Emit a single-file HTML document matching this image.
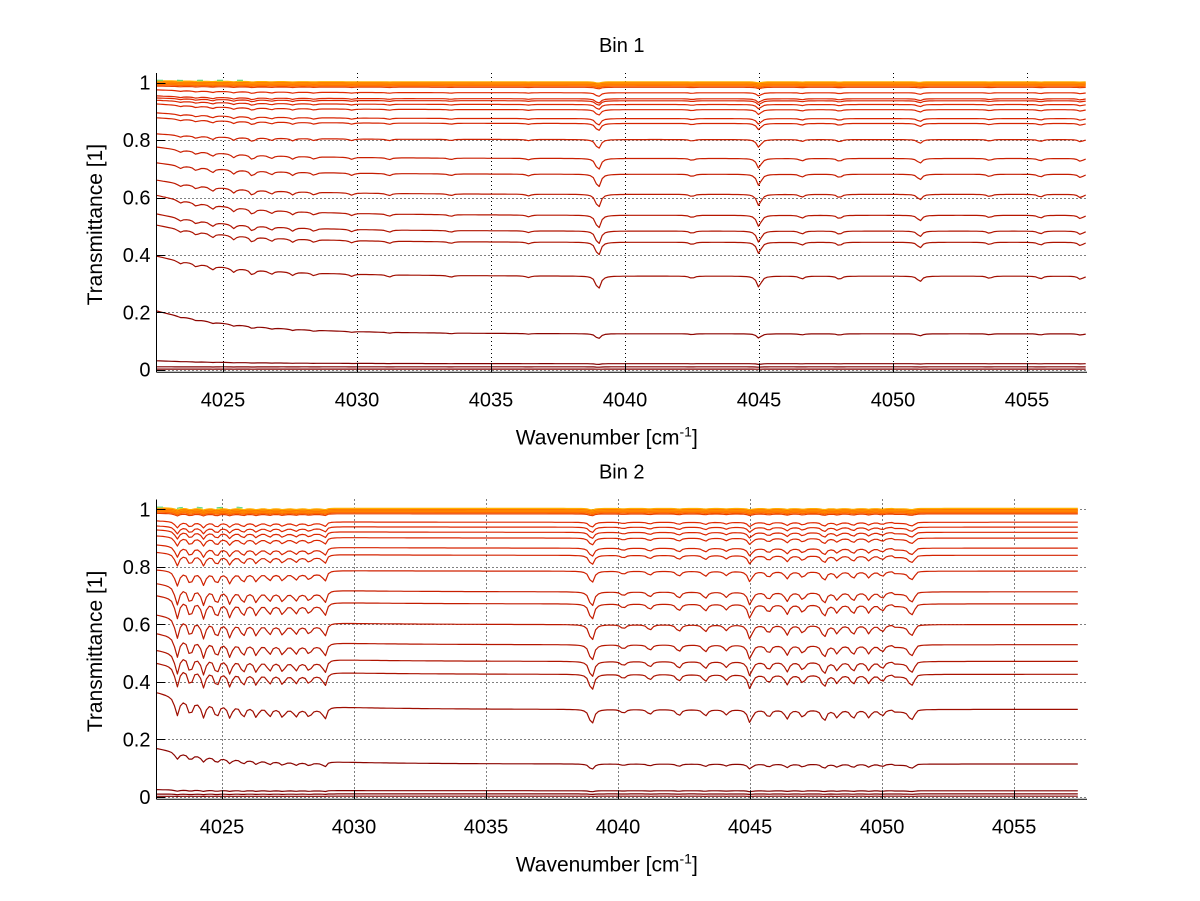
<!DOCTYPE html>
<html><head><meta charset="utf-8"><style>
html,body{margin:0;padding:0;background:#fff;}
svg{display:block;font-family:"Liberation Sans",Arial,sans-serif;}
</style></head><body>
<svg id="chart" width="1200" height="901" viewBox="0 0 1200 901"></svg>
<script>
// ---------- DATA ----------
const xTicks = [4025,4030,4035,4040,4045,4050,4055];
const yTicks = [0,0.2,0.4,0.6,0.8,1];
const yTickLabels = ["0","0.2","0.4","0.6","0.8","1"];
// Bin 1
const levels1 = [0.965,0.944,0.937,0.924,0.906,0.875,0.858,0.802,0.736,0.681,0.611,0.538,0.483,0.444,0.326,0.125,0.021,0.01,0.002];
const excess1 = [0.01,0.01,0.01,0.015,0.02,0.02,0.02,0.02,0.04,0.04,0.05,0.07,0.06,0.06,0.07,0.08,0.01,0,0];
const bunch1 = [0.984,0.988,0.991,0.994,0.996,0.998,1.0,1.003];
const centers1 = [4023.4,4024.0,4024.6,4025.4,4026.1,4026.8,4027.6,4028.4,4029.8,4031.2,4033.5,4036.4,4039.0,4042.5,4045.0,4046.6,4048.0,4051.0,4053.6,4055.5,4057.0];
const depths1 = [0.01,0.012,0.015,0.015,0.02,0.012,0.012,0.01,0.008,0.008,0.006,0.006,0.05,0.008,0.04,0.01,0.012,0.02,0.008,0.01,0.012];
const steps1 = [];
// Bin 2
const levels2 = [0.955,0.938,0.92,0.9,0.865,0.84,0.785,0.713,0.671,0.599,0.529,0.471,0.426,0.304,0.114,0.021,0.01,0.002];
const excess2 = [0.01,0.01,0.015,0.015,0.02,0.02,0.015,0.04,0.04,0.045,0.05,0.05,0.05,0.07,0.06,0.005,0,0];
const bunch2 = [0.984,0.988,0.991,0.994,0.996,0.998,1.0,1.003];
const centers2 = [4023.3,4023.8,4024.3,4024.8,4025.3,4025.8,4026.3,4026.8,4027.3,4027.8,4028.3,4028.9,4039.0,4040.2,4041.2,4042.3,4043.3,4044.1,4045.0,4045.7,4046.4,4047.0,4047.8,4048.3,4048.9,4049.5,4050.0,4051.1];
const depths2 = [0.07,0.06,0.06,0.055,0.05,0.045,0.04,0.035,0.035,0.03,0.03,0.035,0.06,0.015,0.02,0.025,0.025,0.02,0.05,0.03,0.035,0.03,0.045,0.03,0.035,0.03,0.025,0.035];
const steps2 = [[4022.5,4029.0,-0.01],[4050.4,4051.3,-0.007]];

// ---------- LAYOUT ----------
const NS = "http://www.w3.org/2000/svg";
const svg = document.getElementById('chart');
function mk(tag, attrs, parent){const e=document.createElementNS(NS,tag);for(const k in attrs)e.setAttribute(k,attrs[k]);(parent||svg).appendChild(e);return e;}

const panels = [
  {title:"Bin 1", x0:156.5, x1:1087, xmin:4022.52, xmax:4057.24, yZero:369.7, yOne:82.7, yTop:73, yBot:372.3,
   levels:levels1, excess:excess1, bunch:bunch1, centers:centers1, depths:depths1, steps:steps1, xEnd:4057.2},
  {title:"Bin 2", x0:156.5, x1:1087, xmin:4022.52, xmax:4057.76, yZero:796.8, yOne:509.3, yTop:499.5, yBot:799.3,
   levels:levels2, excess:excess2, bunch:bunch2, centers:centers2, depths:depths2, steps:steps2, xEnd:4057.5}
];

function color(T){
  if(T>0.975) return "#ff7000";
  const a=[0x80,0x00,0x00], b=[0xe0,0x28,0x00];
  const t=Math.max(0,Math.min(1,T/0.96));
  return "rgb("+a.map((v,i)=>Math.round(v+(b[i]-v)*t)).join(",")+")";
}

panels.forEach((p,pi)=>{
  const sx = v => p.x0 + (v-p.xmin)/(p.xmax-p.xmin)*(p.x1-p.x0);
  const sy = v => p.yZero - (v)*(p.yZero-p.yOne);
  const g = mk('g',{});
  
  
  const grid = mk('g',{stroke:"#000","stroke-width":1,"stroke-dasharray":"1,3",fill:"none"},g);
  
  
  xTicks.forEach(t=>{const x=Math.round(sx(t))+0.5;mk('line',{x1:x,x2:x,y1:p.yTop,y2:p.yBot},grid);});
  yTicks.forEach(t=>{const y=Math.round(sy(t))+0.5;mk('line',{x1:p.x0,x2:p.x1,y1:y,y2:y},grid);});
  const series = mk('g',{fill:"none","stroke-width":1.2,"stroke-linejoin":"round"},g);
  
  
  const scaleOf = T => Math.min(1,3*T)*Math.min(1,0.2+2.5*(1-T));
  function curve(T, ex, xmaxLim, extraScale){
    const pts=[];
    const s=scaleOf(T)*(extraScale||1);
    for(let x=p.xmin+0.02; x<=Math.min(p.xEnd,xmaxLim); x+=0.11){
      let v=T+ex*Math.exp(-(x-p.xmin)/3.2);
      p.steps.forEach(st=>{ if(x>=st[0]&&x<st[1]) v+=st[2]*Math.min(1,s*1.5); });
      p.centers.forEach((c,i)=>{ const d=(x-c)/0.1; v-=p.depths[i]*s/(1+d*d); });
      pts.push(sx(x).toFixed(1)+","+sy(v).toFixed(1));
    }
    return pts.join(" ");
  }
  p.levels.slice().reverse().forEach((T,ri)=>{
    const i=p.levels.length-1-ri;
    const pl=mk('polyline',{points:curve(T,p.excess[i],9999),stroke:color(T)},series);
    
    
  });
  const bcol=["#e84000","#ff6000","#ff7a00","#ff8c00","#ff6a00","#ffa000","#ff7000","#ffb000"];
  p.bunch.forEach((T,i)=>{
    const pl=mk('polyline',{points:curve(T,0.004,9999,0.5),stroke:bcol[i%bcol.length]},series);
    
    
  });
  ["#c8e040","#40d080"].forEach((c,i)=>{
    const pl=mk('polyline',{points:curve(1.006+i*0.003,0.0,4026,0.3),stroke:c,"stroke-width":0.8,"stroke-dasharray":"6,14"},series);
    
    
  });
  const ax = mk('g',{stroke:"#000","stroke-width":1,fill:"none"},g);
  
  
  mk('line',{x1:p.x0,x2:p.x0,y1:p.yTop,y2:p.yBot},ax);
  mk('line',{x1:p.x0,x2:p.x1,y1:p.yBot,y2:p.yBot},ax);
  xTicks.forEach(t=>{const x=Math.round(sx(t))+0.5;mk('line',{x1:x,x2:x,y1:p.yBot,y2:p.yBot-9},ax);});
  yTicks.forEach(t=>{const y=Math.round(sy(t))+0.5;mk('line',{x1:p.x0,x2:p.x0+9,y1:y,y2:y},ax);});
  xTicks.forEach(t=>{
    const tx=mk('text',{x:sx(t),y:p.yBot+34,"font-size":20,"text-anchor":"middle",fill:"#000"},g);
    tx.textContent=String(t);
    
    
  });
  yTicks.forEach((t,i)=>{
    const tx=mk('text',{x:p.x0-6,y:sy(t)+7,"font-size":20,"text-anchor":"end",fill:"#000"},g);
    tx.textContent=yTickLabels[i];
    
    
  });
  const tt=mk('text',{x:(p.x0+p.x1)/2,y:p.yTop-21,"font-size":20,"text-anchor":"middle",fill:"#000"},g);
  tt.textContent=p.title;
  
  
  const xl=mk('text',{x:(p.x0+p.x1)/2-15,y:p.yBot+72,"font-size":21,"text-anchor":"middle",fill:"#000"},g);
  xl.innerHTML='Wavenumber [cm<tspan dy="-8" font-size="14">-1</tspan><tspan dy="8">]</tspan>';
  
  
  const yc=(p.yTop+p.yBot)/2+2;
  const yl=mk('text',{x:102,y:yc,"font-size":21,"text-anchor":"middle",fill:"#000",transform:"rotate(-90 102 "+yc+")"},g);
  yl.textContent='Transmittance [1]';
  
  
});
</script>
</body></html>
